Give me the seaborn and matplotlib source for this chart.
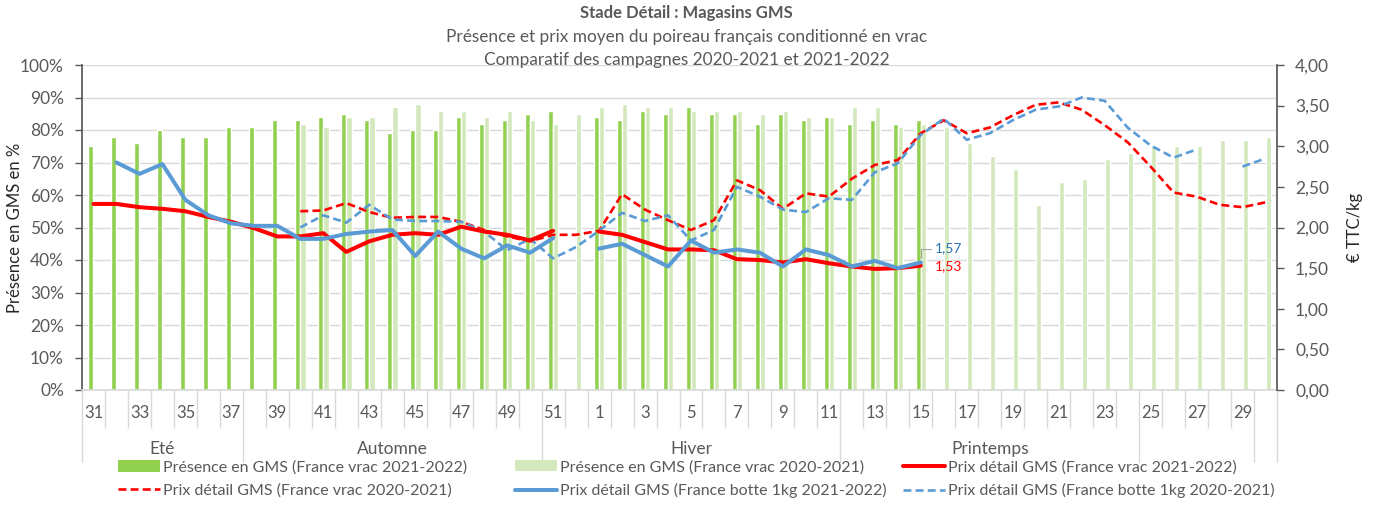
import numpy as np
import pandas as pd
import matplotlib
matplotlib.use("Agg")
import matplotlib.pyplot as plt
import matplotlib.transforms as mtransforms
from matplotlib.patches import Patch
from matplotlib.lines import Line2D
import seaborn as sns

nan = np.nan

weeks = list(range(31, 53)) + list(range(1, 31))

presence_2122 = [75, 78, 76, 80, 78, 78, 81, 81, 83, 83, 84, 85, 83, 79, 80, 80, 84, 82, 83, 85, 86, nan,
                 84, 83, 86, 85, 87, 85, 85, 82, 85, 83, 84, 82, 83, 82, 83,
                 nan, nan, nan, nan, nan, nan, nan, nan, nan, nan, nan, nan, nan, nan, nan]
presence_2021 = [nan, nan, nan, nan, nan, nan, nan, nan, nan, 82, 81, 84, 84, 87, 88, 86, 86, 84, 86, 83, 82, 85,
                 87, 88, 87, 87, 86, 86, 86, 85, 86, 84, 84, 87, 87, 81, 82,
                 81, 76, 72, 68, 57, 64, 65, 71, 73, 75, 75, 75, 77, 77, 78]

prix_vrac_2122 = [2.29, 2.29, 2.25, 2.23, 2.20, 2.13, 2.07, 1.99, 1.89, 1.89, 1.93, 1.70, 1.83, 1.91, 1.93, 1.91,
                  2.01, 1.95, 1.91, 1.84, 1.96, nan,
                  1.95, 1.91, 1.82, 1.73, 1.73, 1.72, 1.61, 1.60, 1.57, 1.61, 1.56, 1.52, 1.49, 1.50, 1.53,
                  nan, nan, nan, nan, nan, nan, nan, nan, nan, nan, nan, nan, nan, nan, nan]
prix_botte_2122 = [nan, 2.80, 2.66, 2.78, 2.34, 2.15, 2.05, 2.02, 2.02, 1.86, 1.86, 1.92, 1.95, 1.97, 1.65, 1.95,
                   1.74, 1.62, 1.78, 1.69, 1.87, nan,
                   1.74, 1.80, 1.66, 1.52, 1.84, 1.69, 1.73, 1.69, 1.52, 1.73, 1.66, 1.52, 1.59, 1.50, 1.57,
                   nan, nan, nan, nan, nan, nan, nan, nan, nan, nan, nan, nan, nan, nan, nan]
prix_vrac_2021 = [nan, nan, nan, nan, nan, nan, nan, nan, nan, 2.20, 2.21, 2.30, 2.19, 2.12, 2.13, 2.13,
                  2.07, 1.97, 1.89, 1.83, 1.91, 1.91,
                  1.96, 2.41, 2.22, 2.09, 1.97, 2.09, 2.58, 2.46, 2.23, 2.42, 2.38, 2.60, 2.77, 2.83, 3.16,
                  3.32, 3.16, 3.23, 3.38, 3.51, 3.54, 3.45, 3.26, 3.05, 2.75, 2.43, 2.38, 2.28, 2.25, 2.31]
prix_botte_2021 = [nan, nan, nan, nan, nan, nan, nan, nan, nan, 2.00, 2.15, 2.06, 2.28, 2.10, 2.08, 2.08,
                   2.07, 1.95, 1.72, 1.86, 1.62, 1.76,
                   1.96, 2.18, 2.08, 2.15, 1.84, 1.97, 2.50, 2.38, 2.22, 2.19, 2.36, 2.34, 2.68, 2.79, 3.14,
                   3.34, 3.08, 3.16, 3.32, 3.45, 3.49, 3.60, 3.56, 3.23, 3.01, 2.86, 2.96, nan, 2.75, 2.85]

seasons = ["Eté", "Automne", "Hiver", "Printemps", "", ""]
season_bounds = [0, 7, 20, 33, 46, 51, 52]

left_ticks = [0, 10, 20, 30, 40, 50, 60, 70, 80, 90, 100]
right_ticks = [0.0, 0.5, 1.0, 1.5, 2.0, 2.5, 3.0, 3.5, 4.0]

lab_p2122 = "Présence en GMS (France vrac 2021-2022)"
lab_p2021 = "Présence en GMS (France vrac 2020-2021)"
lab_v2122 = "Prix détail GMS (France vrac 2021-2022)"
lab_v2021 = "Prix détail GMS (France vrac 2020-2021)"
lab_b2122 = "Prix détail GMS (France botte 1kg 2021-2022)"
lab_b2021 = "Prix détail GMS (France botte 1kg 2020-2021)"

# ---------------------------------------------------------------
sns.set_theme(style="white")
plt.rcParams['font.family'] = ['Lato', 'DejaVu Sans']

GRAY = "#595959"
DARK_GREEN = "#92d050"
LIGHT_GREEN = "#d3e8bd"
RED = "#ff0000"
BLUE = "#5b9bd5"

W, H = 1373, 507
fig = plt.figure(figsize=(W / 100, H / 100), dpi=100)
x0, x1, y0, y1 = 82, 1277, 65, 390
ax = fig.add_axes([x0 / W, 1 - y1 / H, (x1 - x0) / W, (y1 - y0) / H])

cats = [str(w) for w in weeks]
df = pd.DataFrame({
    "week": cats * 2,
    "serie": [lab_p2122] * len(cats) + [lab_p2021] * len(cats),
    "val": presence_2122 + presence_2021,
})
sns.barplot(data=df, x="week", y="val", hue="serie", order=cats,
            hue_order=[lab_p2122, lab_p2021], palette=[DARK_GREEN, LIGHT_GREEN],
            width=0.46, gap=0, dodge=True, errorbar=None, legend=False,
            saturation=1, ax=ax, zorder=2)

n = len(weeks)
ax.set_xlim(-0.5, n - 0.5)
ax.set_ylim(0, 100)
ax.set_yticks(left_ticks)
ax.set_yticklabels([f"{v}%" for v in left_ticks])
ax.set_xlabel("")
ax.set_ylabel("Présence en GMS en %", fontsize=12, color="#262626")
ax.yaxis.set_label_coords((23 - x0) / (x1 - x0), 0.5)
ax.yaxis.grid(True, color="#d9d9d9", lw=1)
ax.set_axisbelow(True)

ax.set_xticks(range(0, n, 2))
ax.set_xticklabels([cats[i] for i in range(0, n, 2)])
ax.set_xticks(np.arange(-0.5, n, 1.0), minor=True)
ax.tick_params(axis="x", which="major", length=0, pad=11, labelsize=12, labelcolor=GRAY)
ax.tick_params(axis="x", which="minor", length=27, width=1, color="#d9d9d9", direction="out", bottom=True)
ax.tick_params(axis="y", which="major", length=5, width=1, color=GRAY, direction="out", left=True,
               labelsize=12.5, labelcolor=GRAY, pad=8)

for s in ["top", "right"]:
    ax.spines[s].set_visible(False)
ax.spines["bottom"].set_color("#d9d9d9")
ax.spines["left"].set_color(GRAY)

ax2 = ax.twinx()
ax2.set_ylim(0, 4)
ax2.set_yticks(right_ticks)
ax2.set_yticklabels([f"{v:.2f}".replace(".", ",") for v in right_ticks])
ax2.tick_params(axis="y", length=5, width=1, color=GRAY, direction="out", right=True,
                labelsize=12.5, labelcolor=GRAY, pad=8)
ax2.set_ylabel("€ TTC/kg", fontsize=12, color="#262626", rotation=90)
ax2.yaxis.set_label_coords((1347 - x0) / (x1 - x0), 0.5)
for s in ["top", "left", "bottom"]:
    ax2.spines[s].set_visible(False)
ax2.spines["right"].set_color(GRAY)

xs = np.arange(n)
ax2.plot(xs, prix_vrac_2021, color=RED, lw=1.9, dashes=(3, 1.6), zorder=3)
ax2.plot(xs, prix_botte_2021, color=BLUE, lw=1.9, dashes=(3, 1.6), zorder=3)
ax2.plot(xs, prix_vrac_2122, color=RED, lw=2.9, solid_capstyle="round", solid_joinstyle="round", zorder=4)
ax2.plot(xs, prix_botte_2122, color=BLUE, lw=2.9, solid_capstyle="round", solid_joinstyle="round", zorder=5)

# data labels at last value
ilast = 36
ax2.annotate(f"{prix_botte_2122[ilast]:.2f}".replace(".", ","), xy=(ilast, prix_botte_2122[ilast]),
             xytext=(10, 10), textcoords="offset points", fontsize=10, color="#2e75b6",
             va="center", ha="left",
             arrowprops=dict(arrowstyle="-", color="#a6a6a6", lw=0.8, shrinkA=0, shrinkB=3,
                             connectionstyle="angle,angleA=0,angleB=90,rad=0"))
ax2.annotate(f"{prix_vrac_2122[ilast]:.2f}".replace(".", ","), xy=(ilast, prix_vrac_2122[ilast]),
             xytext=(10, 0), textcoords="offset points", fontsize=10, color=RED,
             va="center", ha="left")

# season axis level
trans = mtransforms.blended_transform_factory(ax.transData, ax.transAxes)
ytop = (y1 - 427) / (y1 - y0)
ybot = (y1 - 462) / (y1 - y0)
for b in season_bounds:
    ax.plot([b - 0.5, b - 0.5], [ytop, ybot], color="#d9d9d9", lw=1, transform=trans, clip_on=False)
for name, a, b in zip(seasons, season_bounds[:-1], season_bounds[1:]):
    if name:
        ax.text((a + b) / 2 - 0.5, (y1 - 449) / (y1 - y0), name, transform=trans,
                ha="center", va="center", fontsize=12.5, color=GRAY)

# titles
fig.text(0.5, 1 - 13 / H, "Stade Détail : Magasins GMS", ha="center", va="center",
         fontsize=12, fontweight="bold", color=GRAY)
fig.text(0.5, 1 - 37 / H, "Présence et prix moyen du poireau français conditionné en vrac",
         ha="center", va="center", fontsize=12.4, color=GRAY)
fig.text(0.5, 1 - 60 / H, "Comparatif des campagnes 2020-2021 et 2021-2022",
         ha="center", va="center", fontsize=12.4, color=GRAY)

# legend (3 columns, 2 rows)
cols = [
    (118, [Patch(facecolor=DARK_GREEN, edgecolor="none"), Line2D([], [], color=RED, lw=1.9, dashes=(3, 1.6))],
     [lab_p2122, lab_v2021]),
    (515, [Patch(facecolor=LIGHT_GREEN, edgecolor="none"), Line2D([], [], color=BLUE, lw=2.9)],
     [lab_p2021, lab_b2122]),
    (903, [Line2D([], [], color=RED, lw=2.9), Line2D([], [], color=BLUE, lw=1.9, dashes=(3, 1.6))],
     [lab_v2122, lab_b2021]),
]
for xpx, handles, labels in cols:
    leg = fig.legend(handles, labels, loc="center left", bbox_to_anchor=(xpx / W, 1 - 479 / H),
                     frameon=False, fontsize=11.5, handlelength=2.6, handletextpad=0.2,
                     borderpad=0, borderaxespad=0, labelspacing=0.55, labelcolor=GRAY)

fig.savefig("out.png", dpi=100)
